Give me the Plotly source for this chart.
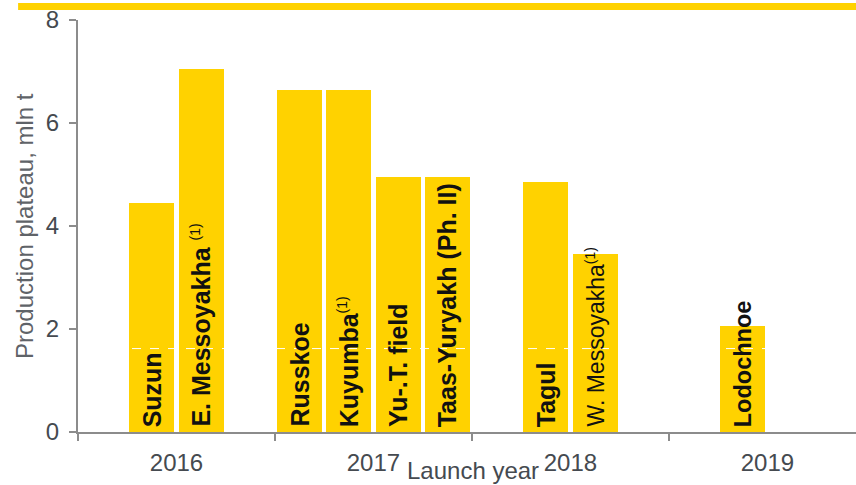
import plotly.graph_objects as go

# ---- data ----
years = ["2016", "2017", "2018", "2019"]
fields = ["Suzun", "E. Messoyakha", "Russkoe", "Kuyumba", "Yu-.T. field",
          "Taas-Yuryakh (Ph. II)", "Tagul", "W. Messoyakha", "Lodochnoe"]
field_year = ["2016", "2016", "2017", "2017", "2017", "2017", "2018", "2018", "2019"]
field_slot = [1, 2, 0, 1, 2, 3, 1, 2, 1]          # slot within year group (4 slots per year)
plateau = [4.45, 7.05, 6.65, 6.65, 4.95, 4.95, 4.85, 3.45, 2.05]
footnote = [False, True, False, True, False, False, False, True, False]
bold_label = [True, True, True, True, True, True, True, False, True]
y_ticks = [0, 2, 4, 6, 8]

YELLOW = "#FFD200"
AXIS = "#8C8C8C"
TXT = "#454A50"
FONT = "Liberation Sans, Arial, sans-serif"

slots_per_year = 4
xpos = [years.index(y) * slots_per_year + s for y, s in zip(field_year, field_slot)]
group_centers = [i * slots_per_year + (slots_per_year - 1) / 2 for i in range(len(years))]
group_bounds = [i * slots_per_year - 0.5 for i in range(len(years))]

fig = go.Figure()
fig.add_trace(go.Bar(x=xpos, y=plateau, width=0.915, marker=dict(color=YELLOW, line=dict(width=0)),
                     hoverinfo="skip", showlegend=False))

sup = "<sup><span style='font-size:14px'>(1)</span></sup>"
for x, name, fn, b in zip(xpos, fields, footnote, bold_label):
    if b:
        txt = "<b>" + name + "</b>"
        size = 23.5 if name == "Lodochnoe" else 25
    else:
        txt = name
        size = 23
    if fn:
        txt += (" " if name.startswith("E.") else "") + sup
    fig.add_annotation(x=x, y=0, xref="x", yref="y", text=txt, textangle=-90,
                       xanchor="center", yanchor="bottom", yshift=4, showarrow=False,
                       borderpad=0, font=dict(family=FONT, size=size, color="#111111"))

# faint dashed white line across bars
fig.add_shape(type="line", xref="paper", yref="y", x0=0, x1=1, y0=1.62, y1=1.62,
              line=dict(color="white", width=1, dash="dash"), layer="above")

# yellow top band
fig.add_shape(type="rect", xref="paper", yref="paper", x0=-0.077, x1=1.0,
              y0=(432 - 10) / 412, y1=(432 - 3) / 412,
              fillcolor=YELLOW, line=dict(width=0), layer="above")

fig.add_annotation(text="Launch year", xref="paper", yref="paper", x=0.508, y=(432 - 470) / 412,
                   xanchor="center", yanchor="middle", showarrow=False,
                   font=dict(family=FONT, size=24, color=TXT))
fig.add_annotation(text="Production plateau, mln t", xref="paper", yref="paper",
                   x=(24 - 78) / 778, y=0.5, textangle=-90, xanchor="center", yanchor="middle",
                   showarrow=False, font=dict(family=FONT, size=24, color="#5F6368"))

fig.update_layout(
    width=856, height=485,
    margin=dict(l=78, r=0, t=20, b=53),
    paper_bgcolor="white", plot_bgcolor="white",
    bargap=0,
    font=dict(family=FONT, color=TXT),
    xaxis=dict(range=[-0.5, 15.3], tickvals=group_centers, ticktext=years, ticks="",
               showline=True, linecolor=AXIS, linewidth=2, showgrid=False, zeroline=False,
               tickfont=dict(size=24, color=TXT), ticklabelstandoff=8,
               minor=dict(tickvals=group_bounds, ticks="outside", ticklen=7, tickcolor=AXIS,
                          tickwidth=2, showgrid=False)),
    yaxis=dict(range=[0, 8], tickvals=y_ticks, ticks="outside", ticklen=7, tickcolor=AXIS,
               tickwidth=2, showline=True, linecolor=AXIS, linewidth=2, showgrid=False,
               zeroline=False, tickfont=dict(size=24, color=TXT), ticklabelstandoff=5),
)

fig.write_html("out.html", config={"displayModeBar": False},
               post_script="document.body.style.margin='0';document.body.style.overflow='hidden';")
